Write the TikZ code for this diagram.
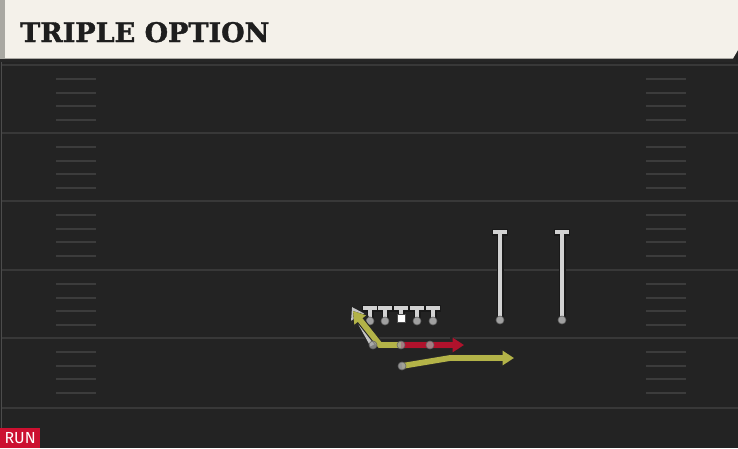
\documentclass[tikz,border=0pt]{standalone}
\usepackage{fontspec}
\setmainfont{DejaVu Serif}
\newfontfamily\titlefont[FakeBold=1.3]{DejaVu Serif Bold}
\newfontfamily\runfont{Fira Sans}
\usetikzlibrary{arrows.meta}
\definecolor{fieldbg}{HTML}{232323}
\definecolor{cream}{HTML}{F4F1EA}
\definecolor{stripgray}{HTML}{A9A8A2}
\definecolor{yardline}{HTML}{383838}
\definecolor{hashc}{HTML}{3C3C3C}
\definecolor{plgray}{HTML}{D2D2D2}
\definecolor{dotgray}{HTML}{A0A0A0}
\definecolor{routeyellow}{HTML}{B3B348}
\definecolor{routered}{HTML}{B0122C}
\definecolor{routegray}{HTML}{C4C4C4}
\definecolor{runred}{HTML}{CC1030}
\definecolor{titlec}{HTML}{1E1E1E}
\tikzset{
  yard/.style={draw=yardline, line width=2pt},
  hashmark/.style={draw=hashc, line width=1.4pt},
  pout/.style={draw=black!90, line width=7pt, line cap=butt},
  pin/.style={draw=plgray, line width=4.6pt, line cap=butt},
  pdot/.style={circle, fill=dotgray, draw=black!60, line width=0.6pt, inner sep=0pt, minimum size=8pt},
  routeout/.style={draw=black!85, line width=8pt, -{Triangle[length=14pt,width=18pt]}},
  routein/.style={line width=5.8pt, -{Triangle[length=11.5pt,width=14pt]}},
}
\newcommand{\lineman}[3]{% x, bar y, dot y
  \draw[pout] (#1-7.8,#2) -- (#1+7.8,#2);
  \draw[pout] (#1,#2) -- (#1,#3);
  \draw[pin] (#1-6.6,#2) -- (#1+6.6,#2);
  \draw[pin] (#1,#2) -- (#1,#3);
}
\begin{document}
\begin{tikzpicture}[x=1pt,y=-1pt]
\useasboundingbox (0,0) rectangle (738,448);
\fill[fieldbg] (0,0) rectangle (738,448);
% header
\fill[black!85] (0,58) rectangle (736,62);
\fill[cream] (0,0) -- (738,0) -- (738,50) -- (733,58.5) -- (0,58.5) -- cycle;
\fill[stripgray] (0,0) rectangle (5,58.5);
\node[anchor=base west, inner sep=0pt, text=titlec, font=\titlefont\fontsize{27}{27}\selectfont] (title) at (20,42) {TRIPLE OPTION};
% field left edge
\draw[draw=black!70!white, line width=1.5pt] (1.5,62) -- (1.5,448);
% yard lines and hashes
\foreach \yy in {65,133,201,270,338,408} {
  \draw[yard] (2,\yy) -- (738,\yy);
}
\foreach \yy in {65,133,201,270,338} {
  \foreach \off in {14,28,41,55} {
    \draw[hashmark] (56,\yy+\off) -- (96,\yy+\off);
    \draw[hashmark] (646,\yy+\off) -- (686,\yy+\off);
  }
}
% receivers
\lineman{500}{232}{320}
\lineman{562}{232}{320}
\node[pdot] (wr1) at (500,320) {};
\node[pdot] (wr2) at (562,320) {};
% linemen
\lineman{370}{308}{321}
\lineman{385}{308}{321}
\lineman{401}{308}{316}
\lineman{417}{308}{321}
\lineman{433}{308}{321}
\node[pdot] (lt) at (370,321) {};
\node[pdot] (lg) at (385,321) {};
\node[fill=white, draw=black!70, line width=0.5pt, minimum size=8.5pt, inner sep=0pt] (c) at (401,318) {};
\node[pdot] (rg) at (417,321) {};
\node[pdot] (rt) at (433,321) {};
% backs (coordinates)
\coordinate (sb) at (373,345);
\coordinate (qb) at (401,345);
\coordinate (fb) at (430,345);
\coordinate (tb) at (402,366);
\coordinate (sbend) at (352,307);
\coordinate (qbbend) at (380,345);
\coordinate (qbend) at (353,311);
\coordinate (fbend) at (464,345);
\coordinate (tbbend) at (450,358);
\coordinate (tbend) at (514,358);
% gray route
\draw[routeout] (sb) -- (sbend);
\draw[routein, draw=routegray, -{Triangle[length=11.5pt,width=14pt,fill=white]}] (sb) -- (sbend);
% yellow route from qb
\draw[routeout, line join=miter] (qb) -- (qbbend) -- (qbend);
\draw[routein, draw=routeyellow, line join=miter] (qb) -- (qbbend) -- (qbend);
% red route
\draw[routeout] (qb) -- (fbend);
\draw[routein, draw=routered] (qb) -- (fbend);
% yellow route 2
\draw[routeout] (tb) -- (tbbend) -- (tbend);
\draw[routein, draw=routeyellow] (tb) -- (tbbend) -- (tbend);
% dots on top
\node[pdot, fill opacity=0.75] (sbd) at (sb) {};
\node[pdot, fill opacity=0.75] (qbd) at (qb) {};
\node[pdot, fill opacity=0.75] (fbd) at (fb) {};
\node[pdot, fill opacity=0.9] (tbd) at (tb) {};
% RUN label
\node[anchor=south west, fill=runred, text=white, minimum width=40pt, minimum height=20pt, inner sep=0pt, font=\runfont\fontsize{16}{16}\selectfont] (run) at (0,448) {RUN};
\end{tikzpicture}
\end{document}
